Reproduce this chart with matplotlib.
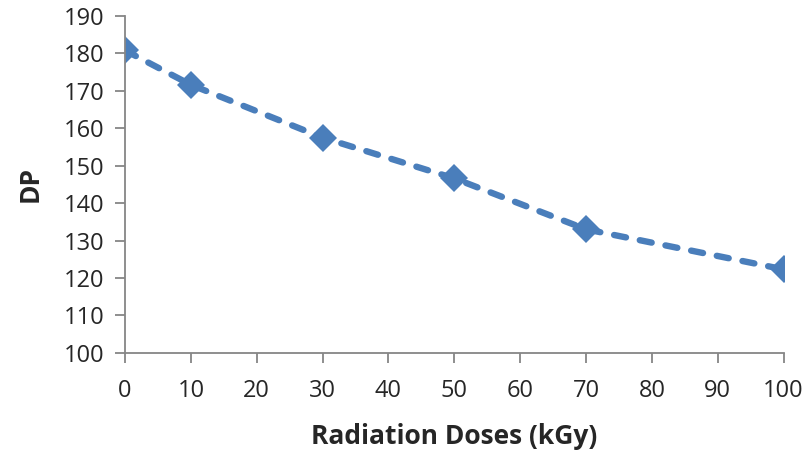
import matplotlib
matplotlib.use('Agg')
import matplotlib.pyplot as plt

# radiation dose (kGy) vs degree of polymerisation
doses = [0, 10, 30, 50, 70, 100]
dp = [180.8, 171.6, 157.5, 146.6, 133.0, 122.3]

plt.rcParams['font.family'] = ['Open Sans', 'DejaVu Sans']

fig = plt.figure(figsize=(8.07, 4.57), dpi=100)
ax = fig.add_axes([0.155, 0.228, 0.816, 0.737])

ax.plot(doses, dp, color='#4a7ebb', linestyle=(0, (1.9, 2.2)), linewidth=4.6,
        dash_capstyle='round', marker='D', markersize=14, markeredgewidth=0)

ax.set_xlim(0, 100)
ax.set_ylim(100, 190)
ax.set_xticks(range(0, 101, 10))
ax.set_yticks(range(100, 191, 10))

for s in ['top', 'right']:
    ax.spines[s].set_visible(False)
for s in ['left', 'bottom']:
    ax.spines[s].set_color('#868686')
    ax.spines[s].set_linewidth(1.3)
ax.tick_params(direction='out', length=7, width=1.3, color='#868686',
               labelsize=17, labelcolor='#262626')
ax.tick_params(axis='x', pad=12)
ax.tick_params(axis='y', pad=8)
ax.set_xlabel('Radiation Doses (kGy)', fontsize=19, fontweight='bold',
              color='#262626', labelpad=14)
ax.set_ylabel('DP', fontsize=19, fontweight='bold', color='#262626', labelpad=14)

plt.savefig('out.png', dpi=100)
